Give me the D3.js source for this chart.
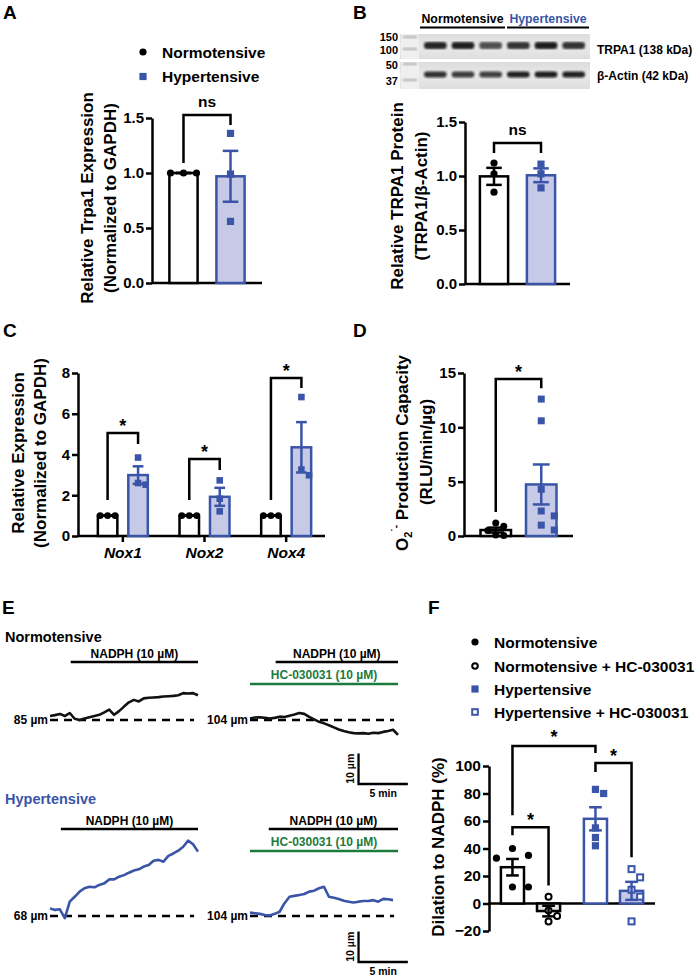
<!DOCTYPE html>
<html>
<head>
<meta charset="utf-8">
<script src="https://cdn.jsdelivr.net/npm/d3@7"></script>
<style>
  body { margin: 0; background: #fff; }
</style>
</head>
<body>
<div id="main"></div>
<script>
// ---------- data ----------
const groupsAB = ["Normotensive", "Hypertensive"];
const trpa1Norm = [1.0, 1.0, 1.0];
const trpa1Hyp = [1.36, 0.99, 0.56];
const proteinNorm = [1.12, 1.02, 0.85];
const proteinHyp = [1.11, 1.02, 0.89];
const ticksAB = [0, 0.5, 1.0, 1.5];

const blotLanes = ["N1", "N2", "N3", "H1", "H2", "H3"];
const trpa1Bands = [0.92, 0.95, 0.72, 0.85, 0.97, 0.85];
const actinBands = [0.88, 0.82, 0.80, 0.95, 0.97, 0.95];
const ladderKDa = ["150", "100", "50", "37"];

const noxGenes = ["Nox1", "Nox2", "Nox4"];
const noxNorm = [[1, 1, 1], [1, 1, 1], [1, 1, 1]];
const noxHyp = [[3.85, 2.52, 2.60], [2.73, 1.83, 1.21], [6.82, 2.98, 3.26]];
const ticksC = [0, 2, 4, 6, 8];

const superNorm = [1.2, 0.9, 0.5, 0.1, 0.05];
const superHyp = [12.6, 10.6, 4.3, 2.3, 1.85, 1.0, 0.55];
const ticksD = [0, 5, 10, 15];

const dilGroups = ["Normotensive", "Normotensive + HC-030031", "Hypertensive", "Hypertensive + HC-030031"];
const dilNorm = [40, 33, 35, 12, 12];
const dilNormHC = [5, -5, -9, -13];
const dilHyp = [83, 80, 55, 48, 42];
const dilHypHC = [25, 19, 10, 5, -13];
const ticksF = [-20, 0, 20, 40, 60, 80, 100];

// diameter traces: change from baseline (um), one sample every 0.5 min
const SAMPLE_MIN = 0.5;
const traceNorm = [1.3, 1.6, 2.0, 1.3, 2.3, 0.4, 0.0, 0.5, 0.9, 1.3, 1.7, 2.5, 3.4, 1.7, 2.9, 4.4,
  5.8, 6.6, 6.1, 7.1, 7.3, 7.4, 7.5, 7.7, 7.8, 7.9, 8.1, 8.8, 8.7, 8.8, 8.1];
const traceNormHC = [0.5, 0.8, 0.9, 0.7, 0.5, 0.7, 1.1, 1.0, 1.4, 1.8, 2.3, 2.0, 1.0, 0.2, -0.6, -1.1,
  -1.7, -2.4, -3.1, -3.6, -4.0, -4.3, -4.4, -4.3, -4.5, -4.2, -4.3, -3.9, -3.6, -3.2, -4.9];
const traceHyp = [2.5, 2.0, 2.2, -0.7, 4.7, 6.3, 8.0, 9.1, 9.6, 9.4, 10.2, 10.7, 12.0, 12.0, 12.9, 13.4,
  14.2, 14.9, 15.3, 16.2, 16.7, 18.1, 18.4, 17.8, 19.7, 20.5, 21.4, 22.7, 24.7, 23.5, 21.1];
const traceHypHC = [1.1, 0.9, 0.7, 0.3, 0.2, 0.7, 1.4, 4.2, 6.3, 6.6, 6.9, 7.2, 8.0, 8.3, 9.1, 9.6,
  6.3, 6.0, 5.6, 5.0, 4.7, 4.4, 4.7, 4.9, 4.9, 5.2, 4.7, 5.6, 5.5, 5.2];
const baselineDiam = ["85 µm", "104 µm", "68 µm", "104 µm"];
const nadphStart = [2.1, 2.6, 1.1, 1.9];   // min

// ---------- setup ----------
const FONT = '"Liberation Sans", Arial, Helvetica, sans-serif';
const BLUE = "#3a55a7", BLUE_FILL = "#c6cae7", GREEN = "#1b7b3d", GREY_FILL = "#e2e2e2";
const LW = 2.5;

const svg = d3.select("#main").append("svg")
  .attr("width", 699).attr("height", 976)
  .style("font-family", FONT).style("font-weight", "bold");

function txt(x, y, s, size, o = {}) {
  const t = svg.append("text").attr("x", x).attr("y", y).attr("font-size", size).text(s);
  if (o.anchor) t.attr("text-anchor", o.anchor);
  if (o.fill) t.attr("fill", o.fill);
  if (o.italic) t.attr("font-style", "italic");
  return t;
}

function yLabel(x, cy, s, size = 17) {
  return svg.append("text")
    .attr("transform", `translate(${x},${cy}) rotate(-90)`)
    .attr("text-anchor", "middle").attr("font-size", size).text(s);
}

function yAxis(y, x, ticks, fmt, size = 15) {
  const g = svg.append("g").attr("transform", `translate(${x},0)`)
    .call(d3.axisLeft(y).tickValues(ticks).tickFormat(fmt).tickSize(6).tickSizeOuter(0).tickPadding(2));
  g.select(".domain").attr("stroke", "#000").attr("stroke-width", LW);
  g.selectAll(".tick line").attr("stroke", "#000").attr("stroke-width", LW);
  g.selectAll(".tick text").attr("fill", "#000").attr("font-size", size)
    .attr("font-family", FONT).attr("font-weight", "bold");
}

function hLine(x0, x1, yy, color = "#000", w = LW) {
  svg.append("line").attr("x1", x0).attr("x2", x1).attr("y1", yy).attr("y2", yy)
    .attr("stroke", color).attr("stroke-width", w);
}

function meanSem(v) {
  const m = d3.mean(v);
  const sem = v.length > 1 ? d3.deviation(v) / Math.sqrt(v.length) : 0;
  return [m, sem];
}

// simple column-scatter layout so that markers do not overlap
function swarm(values, y, d) {
  const placed = [];
  const offs = new Array(values.length);
  const order = values.map((v, i) => i).sort((a, b) => values[b] - values[a]);
  order.forEach(i => {
    const py = y(values[i]);
    for (const c of [0, d, -d, 2 * d, -2 * d, 3 * d, -3 * d]) {
      if (placed.every(p => Math.hypot(p[0] - c, p[1] - py) >= d - 0.01)) {
        offs[i] = c; placed.push([c, py]); break;
      }
    }
  });
  return offs;
}

function marker(x, yy, type, color, r) {
  if (type === "dot" || type === "circle") {
    svg.append("circle").attr("cx", x).attr("cy", yy).attr("r", type === "dot" ? r : r - 0.8)
      .attr("fill", type === "dot" ? color : "#fff")
      .attr("stroke", color).attr("stroke-width", type === "dot" ? 0 : 2);
  } else {
    const s = type === "square" ? r * 2 : r * 2 - 1.6;
    svg.append("rect").attr("x", x - s / 2).attr("y", yy - s / 2).attr("width", s).attr("height", s)
      .attr("fill", type === "square" ? color : "#fff")
      .attr("stroke", color).attr("stroke-width", type === "square" ? 0 : 2);
  }
}

function bar(cx, w, y, values, st) {
  const [m, sem] = meanSem(values);
  svg.append("rect").attr("x", cx - w / 2).attr("width", w)
    .attr("y", Math.min(y(m), y(0))).attr("height", Math.abs(y(0) - y(m)))
    .attr("fill", st.fill).attr("stroke", st.stroke).attr("stroke-width", LW);
  const offs = swarm(values, y, st.spread || st.r * 2 + 1);
  values.forEach((v, i) => marker(cx + offs[i], y(v), st.marker, st.stroke, st.r));
  const cw = w * 0.55;
  svg.append("line").attr("x1", cx).attr("x2", cx).attr("y1", y(m - sem)).attr("y2", y(m + sem))
    .attr("stroke", st.stroke).attr("stroke-width", LW);
  [m - sem, m + sem].forEach(v => hLine(cx - cw / 2, cx + cw / 2, y(v), st.stroke));
}

function bracket(xL, xR, yTop, yL, yR, label, size, gap) {
  svg.append("path").attr("d", `M${xL},${yL}V${yTop}H${xR}V${yR}`)
    .attr("fill", "none").attr("stroke", "#000").attr("stroke-width", LW);
  txt((xL + xR) / 2, yTop - gap, label, size, { anchor: "middle" });
}

const normStyle = { fill: "#fff", stroke: "#000", marker: "dot", r: 3.6 };
const hypStyle = { fill: BLUE_FILL, stroke: BLUE, marker: "square", r: 3.6 };

// ---------- A ----------
txt(3, 19, "A", 19);
marker(143, 52, "dot", "#000", 3.6);
txt(162, 58, "Normotensive", 15.5);
marker(143, 76.5, "square", BLUE, 3.6);
txt(162, 82, "Hypertensive", 15.5);
{
  const y = d3.scaleLinear().domain([0, 1.5]).range([283, 118]);
  const x = d3.scaleBand().domain(groupsAB).range([152, 262]).paddingInner(0.4).paddingOuter(0.37);
  const bw = x.bandwidth(), c = g => x(g) + bw / 2;
  hLine(152, 262, y(0));
  bar(c(groupsAB[0]), bw, y, trpa1Norm, { ...normStyle, spread: 13 });
  bar(c(groupsAB[1]), bw, y, trpa1Hyp, hypStyle);
  yAxis(y, 152, ticksAB, d3.format(".1f"));
  bracket(c(groupsAB[0]), c(groupsAB[1]), y(1.527), y(1.09), y(1.436), "ns", 15.5, 8);
  yLabel(93, 198, "Relative Trpa1 Expression");
  yLabel(116, 198, "(Normalized to GAPDH)");
}

// ---------- B ----------
txt(353, 19, "B", 19);
{
  const defs = svg.append("defs");
  defs.append("filter").attr("id", "blur").append("feGaussianBlur").attr("stdDeviation", 1.1);
  const grad = defs.append("linearGradient").attr("id", "strip").attr("x1", 0).attr("x2", 0).attr("y1", 0).attr("y2", 1);
  grad.append("stop").attr("offset", 0).attr("stop-color", "#dcdcdc");
  grad.append("stop").attr("offset", 0.5).attr("stop-color", "#e9e9e9");
  grad.append("stop").attr("offset", 1).attr("stop-color", "#dedede");

  const lane = d3.scaleBand().domain(blotLanes).range([421, 587]);
  const strips = [{ y0: 34, y1: 59, bandY: 45.5, h: 7, vals: trpa1Bands }, { y0: 62, y1: 89, bandY: 74.5, h: 6, vals: actinBands }];
  strips.forEach(s => {
    svg.append("rect").attr("x", 400).attr("y", s.y0).attr("width", 190).attr("height", s.y1 - s.y0).attr("fill", "url(#strip)");
    svg.append("rect").attr("x", 401).attr("y", s.y0).attr("width", 18).attr("height", s.y1 - s.y0).attr("fill", "#efefef");
    svg.selectAll(null).data(s.vals).join("rect")
      .attr("x", (d, i) => lane(blotLanes[i]) + 3).attr("width", lane.bandwidth() - 5)
      .attr("y", s.bandY - s.h / 2).attr("height", s.h).attr("rx", 3)
      .attr("fill", "#141414").attr("opacity", d => d).attr("filter", "url(#blur)");
  });
  const ladderY = [37, 49, 64, 80];
  ladderY.forEach(yy => svg.append("rect").attr("x", 403).attr("y", yy - 1.5).attr("width", 14).attr("height", 3)
    .attr("fill", "#bcbcbc").attr("filter", "url(#blur)"));
  const ladderBase = [41, 53.5, 68.5, 84.5];
  ladderKDa.forEach((k, i) => txt(398, ladderBase[i], k, 11, { anchor: "end" }));
  txt(597, 54, "TRPA1 (138 kDa)", 12);
  txt(597, 80, "β-Actin (42 kDa)", 12);

  const nx0 = lane("N1") - 1, nx1 = lane("N3") + lane.bandwidth() + 1;
  const hx0 = lane("H1") + 3, hx1 = lane("H3") + lane.bandwidth() + 2;
  txt((nx0 + nx1) / 2, 23, "Normotensive", 12.3, { anchor: "middle" });
  hLine(nx0, nx1, 27.5, "#000", 2);
  txt((hx0 + hx1) / 2, 23, "Hypertensive", 12.3, { anchor: "middle", fill: BLUE });
  hLine(hx0, hx1, 27.5, "#000", 2);

  const y = d3.scaleLinear().domain([0, 1.5]).range([284, 122]);
  const x = d3.scaleBand().domain(groupsAB).range([465, 570]).paddingInner(0.4).paddingOuter(0.317);
  const bw = x.bandwidth(), c = g => x(g) + bw / 2;
  hLine(465, 570, y(0));
  bar(c(groupsAB[0]), bw, y, proteinNorm, normStyle);
  bar(c(groupsAB[1]), bw, y, proteinHyp, hypStyle);
  yAxis(y, 465, ticksAB, d3.format(".1f"));
  bracket(c(groupsAB[0]), c(groupsAB[1]), y(1.306), y(1.213), y(1.213), "ns", 15.5, 8);
  yLabel(403, 196, "Relative TRPA1 Protein");
  yLabel(427, 196, "(TRPA1/β-Actin)");
}

// ---------- C ----------
txt(3, 337, "C", 19);
{
  const y = d3.scaleLinear().domain([0, 8]).range([536, 373]);
  const x = d3.scaleBand().domain(noxGenes).range([82, 327]);
  const inner = d3.scaleBand().domain(groupsAB).range([0, x.bandwidth()]).paddingInner(0.36).paddingOuter(0.52);
  const bw = inner.bandwidth();
  const cx = (gene, grp) => x(gene) + inner(grp) + bw / 2;
  hLine(78, 325, y(0));
  const gx = svg.append("g").attr("transform", `translate(0,${y(0)})`)
    .call(d3.axisBottom(x).tickSize(6).tickPadding(5));
  gx.select(".domain").remove();
  gx.selectAll(".tick line").attr("stroke", "#000").attr("stroke-width", LW);
  gx.selectAll(".tick text").attr("fill", "#000").attr("font-size", 15.5).attr("font-style", "italic")
    .attr("font-family", FONT).attr("font-weight", "bold");
  noxGenes.forEach((g, i) => {
    bar(cx(g, groupsAB[0]), bw, y, noxNorm[i], { ...normStyle, r: 3.3, spread: 7.5 });
    bar(cx(g, groupsAB[1]), bw, y, noxHyp[i], { ...hypStyle, r: 3.3 });
  });
  yAxis(y, 78, ticksC, d3.format("d"));
  const tops = [[5.06, 4.51], [3.78, 3.24], [7.75, 7.26]];
  noxGenes.forEach((g, i) => bracket(cx(g, groupsAB[0]), cx(g, groupsAB[1]), y(tops[i][0]), y(1.77), y(tops[i][1]), "*", 18, 1));
  yLabel(24, 453, "Relative  Expression");
  yLabel(46, 453, "(Normalized to GAPDH)");
}

// ---------- D ----------
txt(353, 337, "D", 19);
{
  const y = d3.scaleLinear().domain([0, 15]).range([536, 373]);
  const x = d3.scaleBand().domain(groupsAB).range([464, 573]).paddingInner(0.33).paddingOuter(0.363);
  const bw = x.bandwidth(), c = g => x(g) + bw / 2;
  hLine(464, 573, y(0));
  bar(c(groupsAB[0]), bw, y, superNorm, { ...normStyle, r: 3.5 });
  bar(c(groupsAB[1]), bw, y, superHyp, { ...hypStyle, r: 3.5, spread: 13 });
  yAxis(y, 464, ticksD, d3.format("d"));
  bracket(c(groupsAB[0]), c(groupsAB[1]), y(14.45), y(2.2), y(13.6), "*", 18, 1);
  const t = svg.append("text").attr("transform", "translate(408,453) rotate(-90)")
    .attr("text-anchor", "middle").attr("font-size", 17);
  t.append("tspan").text("O");
  t.append("tspan").attr("font-size", 11).attr("dy", 4).text("2");
  t.append("tspan").attr("font-size", 10).attr("dy", -13).text("˙-");
  t.append("tspan").attr("dy", 9).text("  Production Capacity");
  yLabel(432, 452, "(RLU/min/µg)");
}

// ---------- E ----------
txt(2, 614, "E", 19);
txt(5, 642, "Normotensive", 14.5);
txt(5, 804, "Hypertensive", 14.5, { fill: BLUE });
{
  const panels = [
    { x0: 50, base: 720, data: traceNorm, color: "#111", barY: 662, hc: false },
    { x0: 250, base: 720, data: traceNormHC, color: "#111", barY: 662, hc: true, hcY: 684 },
    { x0: 50, base: 916, data: traceHyp, color: BLUE, barY: 829, hc: false },
    { x0: 250, base: 916, data: traceHypHC, color: BLUE, barY: 829, hc: true, hcY: 851 }
  ];
  const scales = [];
  panels.forEach((p, k) => {
    const x = d3.scaleLinear().domain([0, 15]).range([p.x0, p.x0 + 148]);
    const y = d3.scaleLinear().domain([0, 10]).range([p.base, p.base - 30.5]);
    scales.push({ x, y });
    svg.append("line").attr("x1", x(0)).attr("x2", x(14.6)).attr("y1", y(0)).attr("y2", y(0))
      .attr("stroke", "#000").attr("stroke-width", 2.3).attr("stroke-dasharray", "8,6");
    svg.append("path").datum(p.data)
      .attr("d", d3.line().x((d, i) => x(i * SAMPLE_MIN)).y(d => y(d)))
      .attr("fill", "none").attr("stroke", p.color).attr("stroke-width", 2.6).attr("stroke-linejoin", "round");
    txt(x(0) - 2, y(0) + 4, baselineDiam[k], 12, { anchor: "end" });
    hLine(x(nadphStart[k]), x(15), p.barY, "#000", 2.3);
    txt((x(nadphStart[k]) + x(15)) / 2, p.barY - 4, "NADPH (10 µM)", 12, { anchor: "middle" });
    if (p.hc) {
      hLine(x(0), x(15), p.hcY, GREEN, 2.3);
      txt((x(0) + x(15)) / 2, p.hcY - 5, "HC-030031 (10 µM)", 12, { anchor: "middle", fill: GREEN });
    }
  });
  // scale bars (10 µm, 5 min)
  [{ s: scales[1], yb: 784 }, { s: scales[3], yb: 962 }].forEach(({ s, yb }) => {
    const xs = s.x(11), len = s.y(0) - s.y(10), wid = s.x(16) - s.x(11);
    svg.append("path").attr("d", `M${xs},${yb - len}V${yb}H${xs + wid}`)
      .attr("fill", "none").attr("stroke", "#000").attr("stroke-width", 2.3);
    svg.append("text").attr("transform", `translate(${xs - 5},${yb - len / 2}) rotate(-90)`)
      .attr("text-anchor", "middle").attr("font-size", 10.5).text("10 µm");
    txt(xs + wid / 2, yb + 13, "5 min", 10.5, { anchor: "middle" });
  });
}

// ---------- F ----------
txt(428, 614, "F", 19);
{
  const types = ["dot", "circle", "square", "osquare"];
  const colors = ["#000", "#000", BLUE, BLUE];
  const legY = [642, 666, 689, 712];
  dilGroups.forEach((g, i) => {
    marker(475, legY[i], types[i], colors[i], 3.6);
    txt(494, legY[i] + 6, g, 15.5);
  });
  const y = d3.scaleLinear().domain([-20, 100]).range([931, 766]);
  const cond = d3.scaleBand().domain(["Normotensive", "Hypertensive"]).range([489, 655]);
  const inner = d3.scaleBand().domain(["vehicle", "HC-030031"]).range([0, cond.bandwidth()]).paddingInner(0.36).paddingOuter(0.33);
  const bw = inner.bandwidth();
  const cx = i => cond(i < 2 ? "Normotensive" : "Hypertensive") + inner(i % 2 ? "HC-030031" : "vehicle") + bw / 2;
  hLine(489, 655, y(0));
  const vals = [dilNorm, dilNormHC, dilHyp, dilHypHC];
  const styles = [
    { fill: "#fff", stroke: "#000", marker: "dot", r: 3.6, spread: 16 },
    { fill: GREY_FILL, stroke: "#000", marker: "circle", r: 3.8 },
    { fill: "#fff", stroke: BLUE, marker: "square", r: 3.6 },
    { fill: BLUE_FILL, stroke: BLUE, marker: "osquare", r: 3.8 }
  ];
  vals.forEach((v, i) => bar(cx(i), bw, y, v, styles[i]));
  yAxis(y, 489, ticksF, d3.format("d"), 15.5);
  bracket(cx(0), cx(1), y(55.5), y(49.6), y(13.1), "*", 18, 1);
  bracket(cx(0), cx(2), y(114.6), y(64.2), y(109.5), "*", 18, 3);
  bracket(cx(2), cx(3), y(102.2), y(95.6), y(33.6), "*", 18, 1);
  yLabel(444, 847, "Dilation to NADPH (%)");
}
</script>
</body>
</html>
